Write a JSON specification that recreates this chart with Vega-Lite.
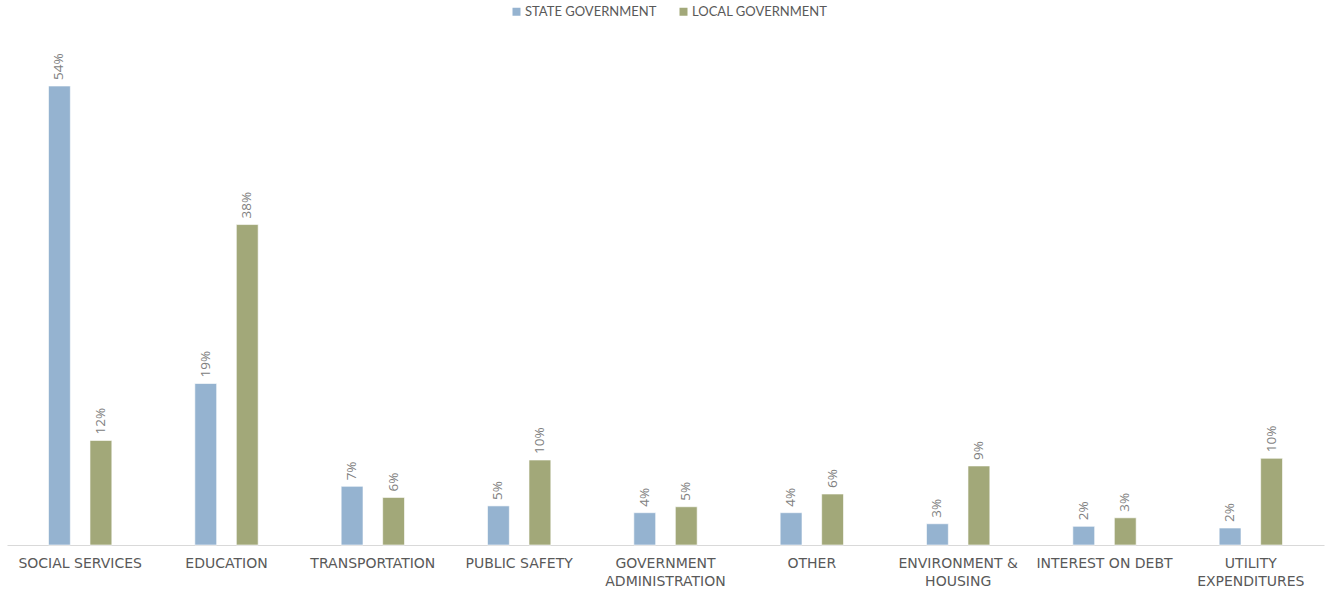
{
  "$schema": "https://vega.github.io/schema/vega-lite/v6.json",
  "width": 1317,
  "height": 510,
  "autosize": "none",
  "padding": {"left": 7, "top": 35, "right": 2, "bottom": 49},
  "background": "white",
  "data": {
    "values": [
      {"category": "SOCIAL SERVICES", "series": "STATE GOVERNMENT", "value": 54.0, "label": "54%"},
      {"category": "SOCIAL SERVICES", "series": "LOCAL GOVERNMENT", "value": 12.3, "label": "12%"},
      {"category": "EDUCATION", "series": "STATE GOVERNMENT", "value": 19.0, "label": "19%"},
      {"category": "EDUCATION", "series": "LOCAL GOVERNMENT", "value": 37.7, "label": "38%"},
      {"category": "TRANSPORTATION", "series": "STATE GOVERNMENT", "value": 6.9, "label": "7%"},
      {"category": "TRANSPORTATION", "series": "LOCAL GOVERNMENT", "value": 5.6, "label": "6%"},
      {"category": "PUBLIC SAFETY", "series": "STATE GOVERNMENT", "value": 4.6, "label": "5%"},
      {"category": "PUBLIC SAFETY", "series": "LOCAL GOVERNMENT", "value": 10.0, "label": "10%"},
      {"category": "GOVERNMENT|ADMINISTRATION", "series": "STATE GOVERNMENT", "value": 3.8, "label": "4%"},
      {"category": "GOVERNMENT|ADMINISTRATION", "series": "LOCAL GOVERNMENT", "value": 4.5, "label": "5%"},
      {"category": "OTHER", "series": "STATE GOVERNMENT", "value": 3.8, "label": "4%"},
      {"category": "OTHER", "series": "LOCAL GOVERNMENT", "value": 6.0, "label": "6%"},
      {"category": "ENVIRONMENT &|HOUSING", "series": "STATE GOVERNMENT", "value": 2.5, "label": "3%"},
      {"category": "ENVIRONMENT &|HOUSING", "series": "LOCAL GOVERNMENT", "value": 9.3, "label": "9%"},
      {"category": "INTEREST ON DEBT", "series": "STATE GOVERNMENT", "value": 2.2, "label": "2%"},
      {"category": "INTEREST ON DEBT", "series": "LOCAL GOVERNMENT", "value": 3.2, "label": "3%"},
      {"category": "UTILITY|EXPENDITURES", "series": "STATE GOVERNMENT", "value": 2.0, "label": "2%"},
      {"category": "UTILITY|EXPENDITURES", "series": "LOCAL GOVERNMENT", "value": 10.2, "label": "10%"}
    ]
  },
  "encoding": {
    "x": {
      "field": "category", "type": "nominal", "sort": null, "title": null,
      "scale": {"paddingInner": 0, "paddingOuter": 0},
      "axis": {
        "labelAngle": 0, "labelFont": "DejaVu Sans", "labelFontSize": 14, "labelColor": "#595959",
        "labelPadding": 11, "labelLineHeight": 18, "ticks": false, "domainColor": "#d9d9d9", "domainWidth": 1,
        "labelExpr": "split(datum.label, '|')", "labelBaseline": "top"
      }
    },
    "xOffset": {
      "field": "series", "type": "nominal", "sort": ["STATE GOVERNMENT", "LOCAL GOVERNMENT"],
      "scale": {"paddingInner": 0.4737, "paddingOuter": 1.17}
    },
    "y": {
      "field": "value", "type": "quantitative", "title": null,
      "scale": {"domain": [0, 60], "nice": false},
      "axis": null
    }
  },
  "layer": [
    {
      "mark": {"type": "bar", "stroke": "#ffffff", "strokeWidth": 1, "strokeOpacity": 0.6},
      "encoding": {
        "color": {
          "field": "series", "type": "nominal", "sort": ["STATE GOVERNMENT", "LOCAL GOVERNMENT"],
          "scale": {"domain": ["STATE GOVERNMENT", "LOCAL GOVERNMENT"], "range": ["#95b3d0", "#a2a879"]},
          "legend": {
            "title": null, "orient": "none", "legendX": 503, "legendY": -30, "direction": "horizontal",
            "symbolType": "square", "symbolSize": 64, "symbolStrokeWidth": 0,
            "labelFont": "Lato", "labelFontSize": 13, "labelColor": "#595959", "labelOffset": 2,
            "columnPadding": 20
          }
        }
      }
    },
    {
      "mark": {"type": "text", "angle": -90, "align": "left", "baseline": "middle", "dx": 6,
        "font": "Open Sans", "fontSize": 13.5, "color": "#808080"},
      "encoding": {
        "text": {"field": "label"}
      }
    }
  ],
  "config": {"view": {"stroke": null}}
}
